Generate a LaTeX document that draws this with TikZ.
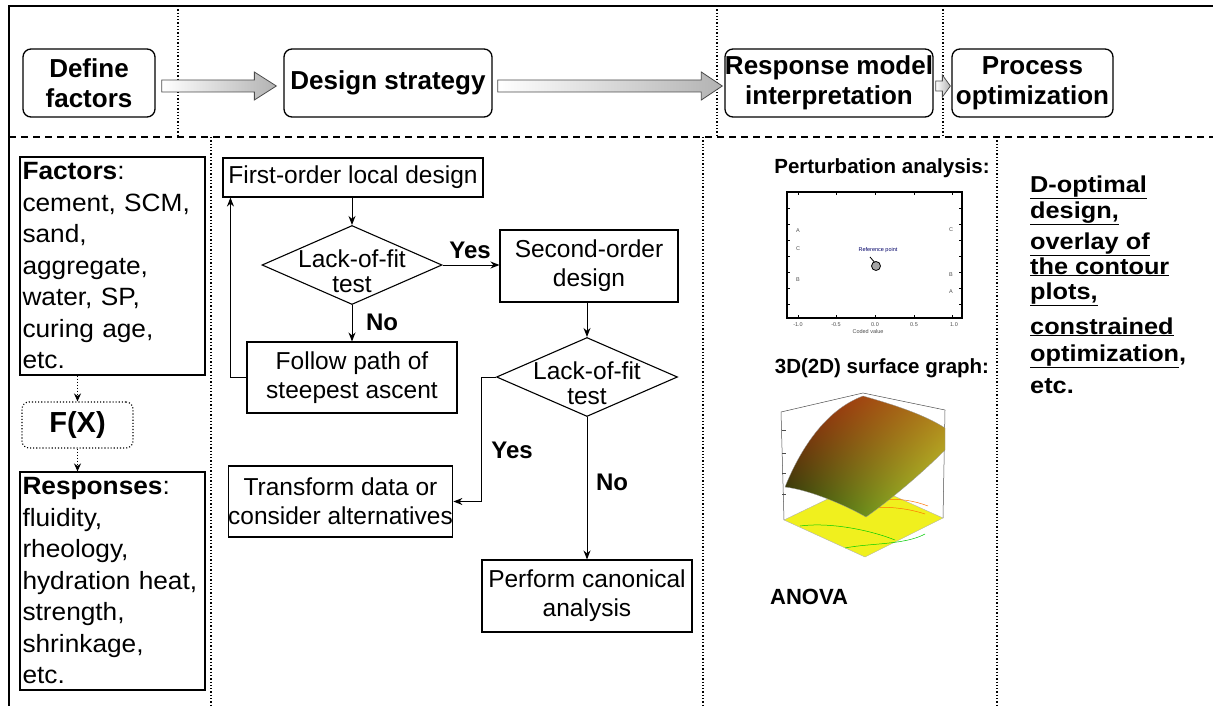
\documentclass[tikz,border=0pt]{standalone}
\usepackage{fontspec}
\setmainfont{Liberation Sans}
\newfontfamily\widefont[FakeStretch=1.1]{Liberation Sans}
\newfontfamily\leftfont[FakeStretch=1.05]{Liberation Sans}
\usetikzlibrary{shapes.geometric,arrows.meta,calc,shadings}
\definecolor{surfA}{RGB}{150,25,10}
\definecolor{surfB}{RGB}{175,120,25}
\definecolor{surfC}{RGB}{30,70,10}
\definecolor{surfD}{RGB}{185,215,45}
\definecolor{floorY}{RGB}{240,240,30}
\begin{document}
\begin{tikzpicture}[x=1pt,y=-1pt,
  topbox/.style={draw,rounded corners=8pt,line width=1.3pt,font=\bfseries\fontsize{26}{30}\selectfont,align=center,inner sep=0pt},
  flowbox/.style={draw,line width=1.1pt,font=\fontsize{24.5}{29}\selectfont,align=center,inner sep=0pt},
  decision/.style={draw,diamond,line width=1.1pt,inner sep=0pt},
  dectext/.style={font=\fontsize{24.5}{25}\selectfont,align=center,inner sep=0pt},
  lbl/.style={font=\bfseries\fontsize{24}{24}\selectfont,inner sep=0pt},
  flow/.style={-{Stealth[length=9pt,width=7pt]},line width=1pt},
  listbox/.style={draw,line width=1.1pt,align=left,inner sep=2.5pt,text width=180pt,font=\leftfont\fontsize{25}{31.5}\selectfont},
  dots/.style={dotted,line width=1.3pt},
  dotarrow/.style={dotted,line width=1pt,-{Stealth[length=8pt,width=7pt]}},
  bigarrow/.style={draw=black!70,line width=0.8pt,left color=white,right color=gray!60},
  rtxt/.style={font=\widefont\bfseries\fontsize{23}{23}\selectfont,anchor=base west,inner sep=0pt},
  htxt/.style={font=\bfseries\fontsize{20.5}{20.5}\selectfont,inner sep=0pt},
  tiny/.style={font=\fontsize{5.5}{5.5}\selectfont,inner sep=0pt,text=black!70}
]
\useasboundingbox (0,0) rectangle (1213,706);
% frame and separators
\draw[line width=1.2pt] (9,706) -- (9,6) -- (1213,6);
\draw[line width=1.3pt,dash pattern=on 7pt off 5pt] (9,137) -- (1213,137);
\draw[dots] (178,6) -- (178,137);
\draw[dots] (717,6) -- (717,137);
\draw[dots] (943,6) -- (943,137);
\draw[dots] (211,137) -- (211,706);
\draw[dots] (703,137) -- (703,706);
\draw[dots] (997,137) -- (997,706);

% top boxes
\node[topbox,minimum width=132pt,minimum height=68pt] (df) at (89,83) {Define\\factors};
\node[topbox,minimum width=208pt,minimum height=68pt] (ds) at (388,83) {Design strategy};
\node[topbox,minimum width=208pt,minimum height=68pt] (rm) at (829,83) {Response model\\interpretation};
\node[topbox,minimum width=161pt,minimum height=68pt] (po) at (1032.5,83) {Process\\optimization};

% big hollow arrows
\path[bigarrow] ($(df.east)+(6,-3)$) -- ($(ds.west)+(-29,-3)$) -- ($(ds.west)+(-29,-11)$) -- ($(ds.west)+(-7,3)$) -- ($(ds.west)+(-29,17)$) -- ($(ds.west)+(-29,9)$) -- ($(df.east)+(6,9)$) -- cycle;
\path[bigarrow] ($(ds.east)+(5,-3)$) -- ($(rm.west)+(-23,-3)$) -- ($(rm.west)+(-23,-11)$) -- ($(rm.west)+(-2,3)$) -- ($(rm.west)+(-23,17)$) -- ($(rm.west)+(-23,9)$) -- ($(ds.east)+(5,9)$) -- cycle;
\path[bigarrow] ($(rm.east)+(2,-2)$) -- ($(po.west)+(-9,-2)$) -- ($(po.west)+(-9,-8)$) -- ($(po.west)+(-1,3)$) -- ($(po.west)+(-9,14)$) -- ($(po.west)+(-9,8)$) -- ($(rm.east)+(2,8)$) -- cycle;

% left column
\node[listbox,minimum height=218pt] (fac) at (112.5,266) {\textbf{Factors}:\\cement, SCM,\\sand,\\aggregate,\\water, SP,\\curing age,\\etc.};
\node[draw,dotted,line width=1.1pt,rounded corners=7pt,minimum width=111pt,minimum height=46pt,font=\bfseries\fontsize{29}{29}\selectfont,inner sep=0pt] (fx) at (77.5,425) {F(X)};
\node[listbox,minimum height=218pt] (res) at (112.5,581) {\textbf{Responses}:\\fluidity,\\rheology,\\hydration heat,\\strength,\\shrinkage,\\etc.};
\draw[dotarrow] (fac.south -| fx.north) -- (fx.north);
\draw[dotarrow] (fx.south) -- (fx.south |- res.north);

% flowchart
\node[flowbox,minimum width=260pt,minimum height=39pt] (b1) at (353,177.5) {First-order local design};
\node[decision,minimum width=180pt,minimum height=79pt] (d1) at (352,265) {};
\node[dectext] at (352,271) {Lack-of-fit\\test};
\node[flowbox,minimum width=178pt,minimum height=72pt] (b2) at (589,266) {Second-order\\design};
\node[flowbox,minimum width=210pt,minimum height=71pt] (b3) at (352,377.5) {Follow path of\\steepest ascent};
\node[decision,minimum width=181pt,minimum height=79pt] (d2) at (587,377) {};
\node[dectext] at (587,383) {Lack-of-fit\\test};
\node[flowbox,minimum width=223pt,minimum height=71pt] (b4) at (340.5,501.5) {Transform data or\\consider alternatives};
\node[flowbox,minimum width=210pt,minimum height=72pt] (b5) at (587,596) {Perform canonical\\analysis};

\draw[flow] (b1.south -| d1.north) -- (d1.north);
\draw[flow] (d1.east) -- (d1.east -| b2.west);
\draw[flow] (d1.south) -- (d1.south |- b3.north);
\draw[flow] (b3.west) -| ([xshift=8pt]b1.south west);
\draw[flow] (b2.south -| d2.north) -- (d2.north);
\draw[flow] (d2.west) -- ++(-14,0) |- (b4.east);
\draw[flow] (d2.south) -- (d2.south |- b5.north);

\node[lbl] (y1) at (470,250) {Yes};
\node[lbl] (n1) at (382,322) {No};
\node[lbl] (y2) at (512,450) {Yes};
\node[lbl] (n2) at (612,482) {No};

% perturbation
\node[htxt] (pa) at (882,168) {Perturbation analysis:};
\draw[line width=1.3pt] (787,192) rectangle (962,318);
\foreach \yy in {208,224,240,256,272,288,304} {\draw[line width=0.8pt] (787,\yy) -- (790,\yy); \draw[line width=0.8pt] (962,\yy) -- (959,\yy);}
\foreach \xx in {798,836,875,914,952} {\draw[line width=0.8pt] (\xx,192) -- (\xx,195); \draw[line width=0.8pt] (\xx,318) -- (\xx,315);}
\node[tiny] at (798,231) {A};
\node[tiny] at (798,249) {C};
\node[tiny] at (798,280) {B};
\node[tiny] at (951,230) {C};
\node[tiny] at (951,275) {B};
\node[tiny] at (951,292) {A};
\node[tiny,text=blue!40!black] at (878,250) {Reference point};
\draw[line width=0.8pt] (870,257) -- (876,264);
\draw[fill=gray!70,line width=0.8pt] (876,266) circle (4.5pt);
\node[tiny] at (798,325) {-1.0};
\node[tiny] at (836,325) {-0.5};
\node[tiny] at (875,325) {0.0};
\node[tiny] at (914,325) {0.5};
\node[tiny] at (954,325) {1.0};
\node[tiny] at (868,332) {Coded value};

% surface graph
\node[htxt] (sg) at (882,368) {3D(2D) surface graph:};
\draw[fill=floorY,draw=gray!60,line width=0.4pt] (784,520) -- (865,557) -- (943,518) -- (863,482) -- cycle;
\draw[green!80!black,line width=0.5pt] (800,526) .. controls (830,522) and (870,530) .. (895,540);
\draw[green!80!black,line width=0.5pt] (845,548) .. controls (870,543) and (905,545) .. (925,534);
\draw[orange!90!red,line width=0.5pt] (872,508) .. controls (890,506) and (910,509) .. (925,514);
\draw[orange!90!red,line width=0.5pt] (880,500) .. controls (900,498) and (915,501) .. (928,506);
\draw[black!70,line width=0.5pt] (781,412) -- (863,393) -- (945,410);
\draw[black!70,line width=0.5pt] (781,412) -- (784,520);
\draw[black!70,line width=0.5pt] (945,410) -- (943,518);
\foreach \yy in {430,453,473,494} {\draw[black!70,line width=0.5pt] (782,\yy) -- (786,\yy);}
\shade[upper left=surfA,upper right=surfB,lower left=surfC,lower right=surfD,draw=black!40,line width=0.3pt]
  (785,487) .. controls (800,450) and (825,410) .. (863,396) .. controls (895,405) and (925,415) .. (945,428) -- (945,450) .. controls (920,475) and (890,500) .. (866,517) .. controls (845,505) and (810,490) .. (785,487) -- cycle;
\node[font=\bfseries\fontsize{22}{22}\selectfont,inner sep=0pt,anchor=west] (an) at (770,597) {ANOVA};

% right column
\node[rtxt] (r1) at (1030,192) {\underline{D-optimal}};
\node[rtxt] (r2) at (1030,218) {\underline{design,}};
\node[rtxt] (r3) at (1030,249) {\underline{overlay of}};
\node[rtxt] (r4) at (1030,274) {\underline{the contour}};
\node[rtxt] (r5) at (1030,299) {\underline{plots,}};
\node[rtxt] (r6) at (1030,334) {\underline{constrained}};
\node[rtxt] (r7) at (1030,361) {\underline{optimization},};
\node[rtxt] (r8) at (1030,393) {etc.};
\end{tikzpicture}
\end{document}
